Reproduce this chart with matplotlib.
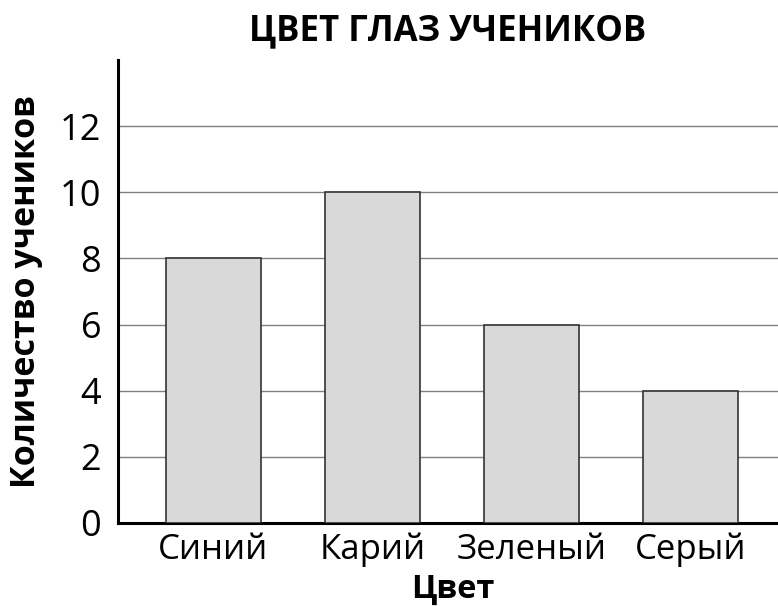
import matplotlib
matplotlib.use("Agg")
import matplotlib.pyplot as plt

# данные
colors = ['Синий', 'Карий', 'Зеленый', 'Серый']
counts = [8, 10, 6, 4]
yticks = [0, 2, 4, 6, 8, 10, 12]

plt.rcParams['font.family'] = ['Open Sans', 'DejaVu Sans']

fig = plt.figure(figsize=(7.78, 6.06), dpi=100)
ax = fig.add_axes([0.1517, 0.137, 0.8483, 0.764])

x = list(range(len(colors)))
ax.bar(x, counts, width=0.6, color='#d9d9d9', edgecolor='#333333', linewidth=1.2, zorder=3)

ax.set_ylim(0, 14)
ax.set_xlim(-0.6, 3.55)
ax.set_yticks(yticks)
ax.set_xticks(x)
ax.set_xticklabels(colors)

# сетка
ax.yaxis.grid(True, color='#808080', linewidth=1.0, zorder=0)
ax.set_axisbelow(True)

for s in ['top', 'right']:
    ax.spines[s].set_visible(False)
for s in ['left', 'bottom']:
    ax.spines[s].set_linewidth(2.2)
    ax.spines[s].set_color('black')

ax.tick_params(axis='y', length=0, labelsize=26, pad=12)
ax.tick_params(axis='x', length=0, labelsize=25, pad=7)

ax.set_title('ЦВЕТ ГЛАЗ УЧЕНИКОВ', fontsize=25, fontweight='bold', pad=14)
ax.set_ylabel('Количество учеников', fontsize=24.5, fontweight='bold', labelpad=12)
ax.set_xlabel('Цвет', fontsize=23.5, fontweight='bold', va='center')
ax.xaxis.set_label_coords(0.508, -0.143)

fig.savefig('out.png', dpi=100)
